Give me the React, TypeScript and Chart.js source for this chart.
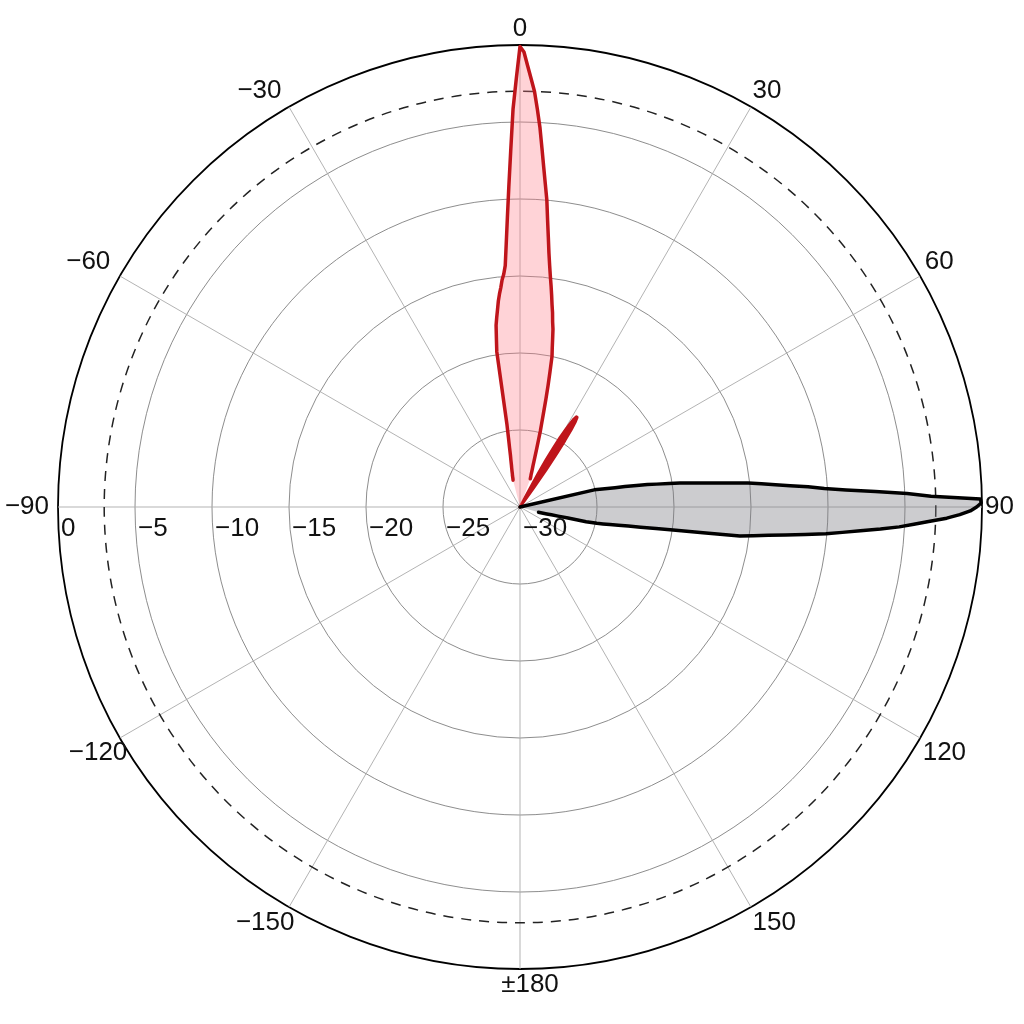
import { useEffect, useRef } from 'react';
import { Chart, registerables } from 'chart.js';

Chart.register(...registerables);

// Angular categories: every 0.5 degree, starting at -90 (left), clockwise
const FIRST_ANGLE = -90;
const ANGLE_STEP = 0.5;
const ANGLE_COUNT = 720;
const ANGLE_LABELS: string[] = Array.from({ length: ANGLE_COUNT }, (_, i) => String(FIRST_ANGLE + i * ANGLE_STEP));

// Radial axis (dB)
const R_MIN = -30;
const R_MAX = 0;
const RING_TICKS = [0, -5, -10, -15, -20, -25, -30];
const HALF_POWER_DB = -3;

// Spoke labels
const SPOKE_ANGLES = [-90, -60, -30, 0, 30, 60, 90, 120, 150, 180, 210, 240];
const SPOKE_LABELS = ['−90', '−60', '−30', '0', '30', '60', '90', '120', '150', '±180', '−150', '−120'];
const SPOKE_LABEL_NUDGE_X = [-6, -7, -6, 0, 0, 2, 0, 0, 0, 10, 7, 10];

// Red pattern: main lobe (starting at -14.5 deg, 0.5 deg steps)
const RED_MAIN_START = -14.5;
const RED_MAIN_DB = [
  -28.2, -28.1, -27.9, -27.8, -27.6, -27.4, -27.2, -26.9, -26.6, -26.1,
  -25.5, -24.6, -19.8, -19.0, -18.1, -17.6, -17.1, -16.55, -16.1, -15.7,
  -15.2, -14.85, -14.3, -12.9, -11.2, -9.2, -6.9, -4.15, -2.2, -0.1,
  -0.45, -1.36, -2.2, -3.0, -4.15, -5.3, -6.65, -7.9, -9.0, -10.0,
  -11.3, -12.4, -13.4, -14.2, -14.9, -15.5, -16.1, -16.7, -17.2, -17.8,
  -18.25, -18.9, -19.5, -20.0, -21.0, -21.9, -22.8, -23.65, -24.35, -24.9,
  -25.55, -26.1, -26.55, -26.9, -27.2, -27.4, -27.6, -27.8, -27.9, -28.05,
];
// Red pattern: side lobe (starting at 28 deg)
const RED_SIDE_START = 28;
const RED_SIDE_DB = [
  -30, -27.5, -26.5, -25.6, -24.8, -24.2, -23.7, -23.3, -23.1, -23.1,
  -23.4, -24.0, -24.8, -25.8, -27.0, -28.5, -30,
];
// Black pattern: lobe near 90 deg (starting at 76.5 deg)
const BLACK_START = 76.5;
const BLACK_DB = [
  -30, -25.05, -24.7, -24.2, -23.7, -23.06, -22.3, -21.6, -21.0, -20.2,
  -19.5, -18.8, -18.07, -17.2, -16.2, -15.1, -14.25, -13.35, -12.4, -11.25,
  -10.2, -8.8, -6.9, -4.85, -3.3, -0.1, -0.05, -0.35, -0.76, -1.44,
  -2.28, -3.36, -4.4, -5.34, -6.55, -7.84, -9.0, -10.06, -11.4, -12.66,
  -13.77, -14.73, -15.6, -18.0, -19.77, -21.06, -22.06, -22.86, -23.5, -24.05,
  -24.5, -24.9, -25.6, -26.8, -27.46, -27.9, -28.2, -28.44, -28.6, -28.75,
];

function buildSeries(lobes: { start: number; db: number[] }[]): (number | null)[] {
  const out: (number | null)[] = new Array(ANGLE_COUNT).fill(null);
  lobes.forEach(({ start, db }) => {
    const i0 = Math.round((start - FIRST_ANGLE) / ANGLE_STEP);
    db.forEach((v, k) => {
      out[(i0 + k) % ANGLE_COUNT] = v;
    });
  });
  return out;
}

const FONT = '26px "Liberation Sans", Arial, sans-serif';
const RED = '#bf151b';

const polarDecor = {
  id: 'polarDecor',
  beforeDatasetsDraw(chart: any) {
    const scale = chart.scales.r;
    const ctx = chart.ctx;
    ctx.save();
    ctx.beginPath();
    ctx.setLineDash([10, 8]);
    ctx.lineWidth = 1.5;
    ctx.strokeStyle = '#222';
    ctx.arc(scale.xCenter, scale.yCenter, scale.getDistanceFromCenterForValue(HALF_POWER_DB), 0, Math.PI * 2);
    ctx.stroke();
    ctx.restore();
  },
  afterDraw(chart: any) {
    const scale = chart.scales.r;
    const ctx = chart.ctx;
    ctx.save();
    ctx.font = FONT;
    ctx.fillStyle = '#111';
    // ring labels along the left horizontal axis
    ctx.textAlign = 'left';
    ctx.textBaseline = 'alphabetic';
    RING_TICKS.forEach((v) => {
      const r = scale.getDistanceFromCenterForValue(v);
      const label = v === 0 ? '0' : '−' + String(Math.abs(v));
      ctx.fillText(label, scale.xCenter - r + 3, scale.yCenter + 29);
    });
    // spoke labels
    SPOKE_ANGLES.forEach((a, j) => {
      const idx = Math.round((a - FIRST_ANGLE) / ANGLE_STEP) % ANGLE_COUNT;
      const p = scale.getPointPosition(idx, scale.drawingArea + 3);
      const deg = ((a % 360) + 360) % 360;
      let align: CanvasTextAlign = 'center';
      if (deg > 0 && deg < 180) align = 'left';
      else if (deg > 180) align = 'right';
      let base: CanvasTextBaseline = 'top';
      if (deg === 90 || deg === 270) base = 'middle';
      else if (deg < 90 || deg > 270) base = 'bottom';
      ctx.textAlign = align;
      ctx.textBaseline = base;
      ctx.fillText(SPOKE_LABELS[j], p.x + SPOKE_LABEL_NUDGE_X[j], p.y);
    });
    ctx.restore();
  },
};

const lineStyle = {
  borderWidth: 3.5,
  fill: 'start',
  pointRadius: 0,
  pointHoverRadius: 0,
  spanGaps: false,
  tension: 0,
  borderJoinStyle: 'round',
  borderCapStyle: 'round',
};

export default function App() {
  const ref = useRef<HTMLCanvasElement | null>(null);
  useEffect(() => {
    if (!ref.current) return;
    const chart = new Chart(ref.current, {
      type: 'radar',
      data: {
        labels: ANGLE_LABELS,
        datasets: [
          {
            ...lineStyle,
            label: 'black',
            data: buildSeries([{ start: BLACK_START, db: BLACK_DB }]),
            borderColor: '#000000',
            backgroundColor: 'rgba(120,120,130,0.38)',
          } as any,
          {
            ...lineStyle,
            label: 'red main lobe',
            data: buildSeries([{ start: RED_MAIN_START, db: RED_MAIN_DB }]),
            borderColor: RED,
            backgroundColor: 'rgba(255,120,135,0.33)',
          } as any,
          {
            ...lineStyle,
            label: 'red side lobe',
            data: buildSeries([{ start: RED_SIDE_START, db: RED_SIDE_DB }]),
            borderColor: RED,
            backgroundColor: RED,
            borderWidth: 3,
          } as any,
        ],
      },
      options: {
        animation: false,
        responsive: false,
        devicePixelRatio: 1,
        layout: { padding: { left: 58, right: 42, top: 45, bottom: 55 } },
        plugins: { legend: { display: false }, tooltip: { enabled: false } },
        events: [],
        scales: {
          r: {
            min: R_MIN,
            max: R_MAX,
            startAngle: FIRST_ANGLE,
            ticks: { display: false, stepSize: 5 },
            pointLabels: { display: false },
            grid: {
              circular: true,
              color: (c: any) => (c.tick && c.tick.value === R_MAX ? '#000000' : '#808080'),
              lineWidth: (c: any) => (c.tick && c.tick.value === R_MAX ? 1.8 : 0.9),
            },
            angleLines: {
              display: true,
              color: '#aaaaaa',
              lineWidth: (c: any) => {
                const a = FIRST_ANGLE + c.index * ANGLE_STEP;
                return a % 30 === 0 ? 0.9 : 0;
              },
            },
          },
        },
      } as any,
      plugins: [polarDecor],
    });
    return () => chart.destroy();
  }, []);
  return (
    <canvas
      ref={ref}
      width={1024}
      height={1024}
      style={{ position: 'absolute', left: 0, top: 0, display: 'block' }}
    />
  );
}
